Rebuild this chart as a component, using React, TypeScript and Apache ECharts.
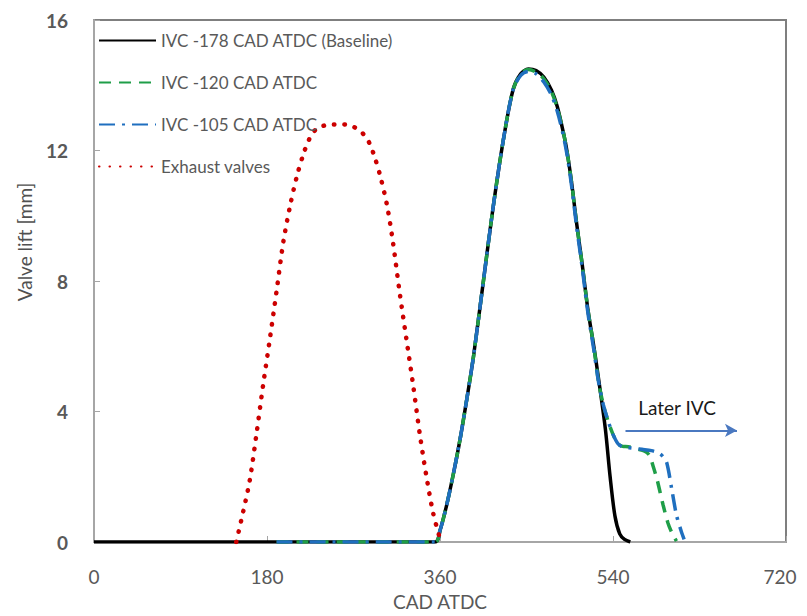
import React, { useEffect, useRef } from "react";
import * as echarts from "echarts";

// Tick labels
const xTicks = [0, 180, 360, 540, 720];
const yTicks = [0, 4, 8, 12, 16];

// Series names
const seriesNames = [
  "IVC -178 CAD ATDC (Baseline)",
  "IVC -120 CAD ATDC",
  "IVC -105 CAD ATDC",
  "Exhaust valves",
];

// Baseline intake (IVC -178)
const baseCad = [0, 355, 360, 367, 374, 381, 388, 395, 405, 415, 426, 436, 444, 452, 460, 468, 476, 482, 488, 492, 497, 502, 508, 514, 520, 525, 532, 537, 542, 547, 552, 558];
const baseLift = [0, 0, 0.35, 1.14, 2.1, 3.17, 4.4, 5.72, 7.96, 10.2, 12.34, 13.86, 14.35, 14.5, 14.45, 14.25, 13.85, 13.35, 12.6, 12.0, 11.0, 9.8, 8.5, 7.1, 6.0, 5.0, 3.48, 2.0, 0.8, 0.25, 0.08, 0.0];

// IVC -120
const ivc120Cad = [190, 355, 360, 367, 374, 381, 388, 395, 405, 415, 426, 436, 444, 452, 460, 468, 476, 482, 488, 492, 497, 502, 508, 514, 520, 525, 530, 535, 540, 545, 550, 556, 565, 573, 578, 582, 586, 592, 597, 601, 606];
const ivc120Lift = [0, 0, 0.35, 1.14, 2.1, 3.17, 4.4, 5.72, 7.96, 10.2, 12.34, 13.86, 14.35, 14.48, 14.4, 14.2, 13.8, 13.3, 12.6, 12.0, 11.0, 9.8, 8.5, 7.1, 6.0, 4.9, 4.2, 3.7, 3.3, 3.02, 2.93, 2.92, 2.85, 2.78, 2.65, 2.3, 1.9, 1.15, 0.6, 0.3, 0.03];

// IVC -105
const ivc105Cad = [190, 355, 360, 367, 374, 381, 388, 395, 405, 415, 426, 436, 444, 452, 460, 468, 476, 482, 488, 492, 497, 502, 508, 514, 520, 525, 530, 535, 540, 545, 550, 560, 570, 580, 588, 592, 596, 601, 606, 611, 614];
const ivc105Lift = [0, 0, 0.35, 1.14, 2.1, 3.17, 4.4, 5.72, 7.96, 10.2, 12.34, 13.86, 14.3, 14.42, 14.35, 14.1, 13.7, 13.2, 12.5, 11.9, 10.9, 9.7, 8.4, 7.0, 5.9, 4.9, 4.2, 3.7, 3.3, 3.02, 2.92, 2.88, 2.84, 2.8, 2.72, 2.62, 2.42, 1.64, 0.83, 0.33, 0.08];

// Exhaust valves
const exhCad = [148, 155, 162, 169, 176, 183, 190, 197, 204, 211, 218, 224, 230, 238, 248, 259, 268, 277, 283, 287, 292, 298, 305, 311, 318, 325, 332, 339, 346, 353, 360];
const exhLift = [0, 0.9, 1.88, 3.3, 4.82, 6.23, 7.7, 9.2, 10.3, 11.2, 11.9, 12.35, 12.62, 12.75, 12.8, 12.8, 12.75, 12.6, 12.4, 12.2, 11.8, 11.2, 10.3, 9.2, 7.65, 6.23, 4.82, 3.3, 1.99, 0.87, 0.1];

// Annotation arrow (data coords)
const arrowFrom = [553, 3.42];
const arrowTo = [669, 3.42];
const annotationText = "Later IVC";

const zip = (xs: number[], ys: number[]) => xs.map((x, i) => [x, ys[i]]);

const FONT = "Lato, 'Open Sans', sans-serif";
const GRAY = "#595959";

export default function App() {
  const ref = useRef<HTMLDivElement>(null);
  useEffect(() => {
    if (!ref.current) return;
    const chart = echarts.init(ref.current, undefined, { renderer: "svg" });
    chart.setOption({
      animation: false,
      backgroundColor: "#ffffff",
      textStyle: { fontFamily: FONT },
      grid: {
        left: 94,
        right: 21,
        top: 20,
        bottom: 72,
        show: true,
        borderColor: "#7f7f7f",
        borderWidth: 2,
        containLabel: false,
      },
      legend: {
        orient: "vertical",
        left: 93,
        top: 27,
        itemWidth: 57,
        itemHeight: 14,
        itemGap: 25,
        itemStyle: { opacity: 0, color: "rgba(0,0,0,0)", borderWidth: 0 },
        textStyle: { color: GRAY, fontSize: 17, fontFamily: FONT },
        data: seriesNames,
      },
      xAxis: {
        type: "value",
        min: 0,
        max: 720,
        interval: 180,
        name: "CAD ATDC",
        nameLocation: "middle",
        nameGap: 50,
        nameTextStyle: { color: GRAY, fontSize: 19, fontFamily: FONT },
        axisLine: { show: true, lineStyle: { color: "#a6a6a6", width: 2 } },
        axisTick: { show: true, inside: true, length: 6, lineStyle: { color: "#a6a6a6" } },
        axisLabel: {
          color: GRAY,
          fontSize: 19,
          margin: 25,
          fontFamily: FONT,
          formatter: (v: number) =>
            xTicks.includes(v) ? (v === 720 ? `{last|${v}}` : String(v)) : "",
          rich: {
            last: {
              color: GRAY,
              fontSize: 19,
              fontFamily: FONT,
              padding: [0, 12, 0, 0],
            },
          },
        },
        splitLine: { show: false },
      },
      yAxis: {
        type: "value",
        min: 0,
        max: 16,
        interval: 4,
        axisLine: { show: true, lineStyle: { color: "#a6a6a6", width: 2 } },
        axisTick: { show: true, inside: true, length: 6, lineStyle: { color: "#a6a6a6" } },
        axisLabel: {
          color: GRAY,
          fontSize: 19,
          fontWeight: "bold",
          margin: 26,
          fontFamily: FONT,
          formatter: (v: number) => (yTicks.includes(v) ? String(v) : ""),
        },
        splitLine: { show: false },
      },
      graphic: [
        {
          type: "text",
          x: 24,
          y: 242,
          rotation: Math.PI / 2,
          style: {
            text: "Valve lift [mm]",
            fill: "#505050",
            font: `19px ${FONT}`,
            align: "center",
            verticalAlign: "middle",
          },
        },
        {
          type: "text",
          x: 677,
          y: 407,
          style: {
            text: annotationText,
            fill: "#1a1a1a",
            font: `19px ${FONT}`,
            align: "center",
            verticalAlign: "middle",
          },
        },
      ],
      series: [
        {
          name: seriesNames[0],
          type: "line",
          data: zip(baseCad, baseLift),
          showSymbol: false,
          symbol: "none",
          smooth: 0.3,
          lineStyle: { color: "#000000", width: 3.5 },
          itemStyle: { color: "#000000" },
        },
        {
          name: seriesNames[1],
          type: "line",
          data: zip(ivc120Cad, ivc120Lift),
          showSymbol: false,
          symbol: "none",
          smooth: 0.3,
          lineStyle: { color: "#1f9e48", width: 3.5, type: [12, 8] },
          itemStyle: { color: "#1f9e48" },
        },
        {
          name: seriesNames[2],
          type: "line",
          data: zip(ivc105Cad, ivc105Lift),
          showSymbol: false,
          symbol: "none",
          smooth: 0.3,
          lineStyle: { color: "#1f6fbf", width: 3.5, type: [16, 7, 3, 7] },
          itemStyle: { color: "#1f6fbf" },
          markLine: {
            silent: true,
            symbol: ["none", "arrow"],
            symbolSize: [10, 12],
            label: { show: false },
            lineStyle: { color: "#4a78c0", width: 2, type: "solid" },
            data: [[{ coord: arrowFrom }, { coord: arrowTo }]],
          },
        },
        {
          name: seriesNames[3],
          type: "line",
          data: zip(exhCad, exhLift),
          showSymbol: false,
          symbol: "none",
          smooth: 0.3,
          lineStyle: { color: "#cc0000", width: 4.5, type: [0.5, 10], cap: "round" },
          itemStyle: { color: "#cc0000" },
        },
      ],
    });
    return () => chart.dispose();
  }, []);
  return (
    <div
      ref={ref}
      style={{ position: "absolute", left: 0, top: 0, width: 807, height: 616 }}
    />
  );
}
